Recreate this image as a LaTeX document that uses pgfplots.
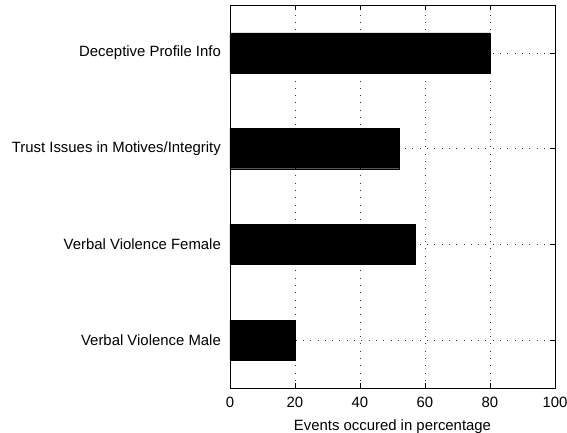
\documentclass[border=0pt]{standalone}
\usepackage{pgfplots}
\pgfplotsset{compat=1.18}
\usepackage{fontspec}
\setmainfont{Liberation Sans}
\begin{document}
\fontsize{14.9bp}{17bp}\selectfont
\begin{tikzpicture}
\path[use as bounding box] (-230bp,-45bp) rectangle (337bp,388bp);
\begin{axis}[
 at={(0,0)}, anchor=south west,
 scale only axis, width=325bp, height=383bp,
 xbar, bar width=0.42,
 xmin=0, xmax=100, ymin=0.5, ymax=4.5,
 xtick={0,20,...,100},
 ytick={1,2,3,4},
 yticklabels={Verbal Violence Male, Verbal Violence Female, Trust Issues in Motives/Integrity, Deceptive Profile Info},
 xlabel={Events occured in percentage},
 grid=major,
 major grid style={black!80, dash pattern=on 0.8bp off 6.5bp, line width=0.6bp},
 tick align=inside, major tick length=5bp,
 axis line style={line width=0.8bp},
 every tick/.style={black, line width=0.6bp},
 /pgf/number format/assume math mode=true,
 font=\fontsize{14.9bp}{17bp}\selectfont,
 tick label style={font=\fontsize{14.9bp}{17bp}\selectfont},
 label style={font=\fontsize{14.9bp}{17bp}\selectfont},
 yticklabel style={xshift=-4bp},
 xticklabel style={yshift=-3.5bp},
 xlabel style={yshift=-2bp},
]
\addplot[fill=black, draw=black] coordinates {(20,1) (57,2) (52,3) (80,4)};
\end{axis}
\end{tikzpicture}
\end{document}
